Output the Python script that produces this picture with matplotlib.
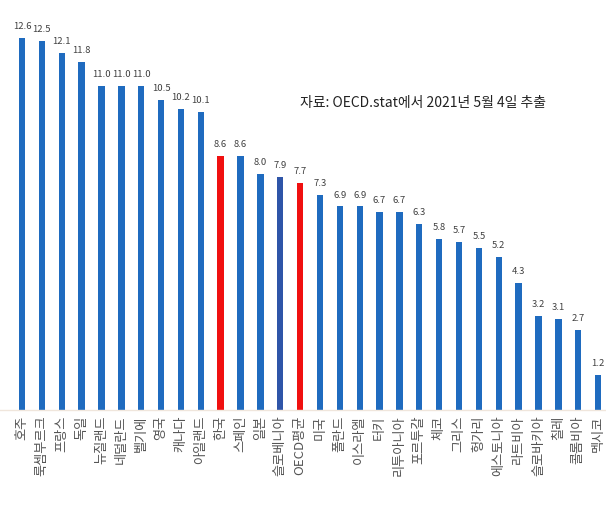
import matplotlib

matplotlib.use("Agg")

import matplotlib.pyplot as plt  # noqa: E402

plt.rcParams["font.family"] = ["Noto Sans CJK KR", "DejaVu Sans"]

countries = [
    "호주", "룩셈부르크", "프랑스", "독일", "뉴질랜드", "네덜란드", "벨기에", "영국",
    "캐나다", "아일랜드", "한국", "스페인", "일본", "슬로베니아", "OECD평균", "미국",
    "폴란드", "이스라엘", "터키", "리투아니아", "포르투갈", "체코", "그리스", "헝가리",
    "에스토니아", "라트비아", "슬로바키아", "칠레", "콜롬비아", "멕시코",
]
values = [
    12.6, 12.5, 12.1, 11.8, 11.0, 11.0, 11.0, 10.5, 10.2, 10.1,
    8.6, 8.6, 8.0, 7.9, 7.7, 7.3, 6.9, 6.9, 6.7, 6.7,
    6.3, 5.8, 5.7, 5.5, 5.2, 4.3, 3.2, 3.1, 2.7, 1.2,
]
highlight = ["한국", "OECD평균"]
source_note = "자료: OECD.stat에서 2021년 5월 4일 추출"

blue = "#1f6bbf"
red = "#f01010"
colors = []
for name in countries:
    if name in highlight:
        colors.append(red)
    elif name == "슬로베니아":
        colors.append("#2f55a8")
    else:
        colors.append(blue)

fig = plt.figure(figsize=(6.06, 5.21), dpi=100)
ax = fig.add_axes([0, 0.2131, 1, 0.7869])

xs = range(len(countries))
ax.bar(xs, values, width=0.32, color=colors)

for x, v in zip(xs, values):
    ax.annotate(f"{v:.1f}", (x, v), xytext=(0, 5), textcoords="offset points",
                ha="center", va="bottom", fontsize=6.8, color="#404040")

ax.set_xlim(-1.11, 29.4)
ax.set_ylim(0, 13.9)
ax.set_xticks(list(xs))
ax.set_xticklabels(countries, rotation=90, fontsize=9.5, color="#555555",
                   va="top", ha="center")
ax.tick_params(axis="x", length=0, pad=4)
ax.set_yticks([])
for side in ["top", "right", "left"]:
    ax.spines[side].set_visible(False)
ax.spines["bottom"].set_color("#f0e6dc")
ax.spines["bottom"].set_linewidth(1.0)

fig.text(0.495, 0.802, source_note, ha="left", va="center",
         fontsize=10, color="#222222")

fig.savefig("out.png", dpi=100)
plt.close(fig)
